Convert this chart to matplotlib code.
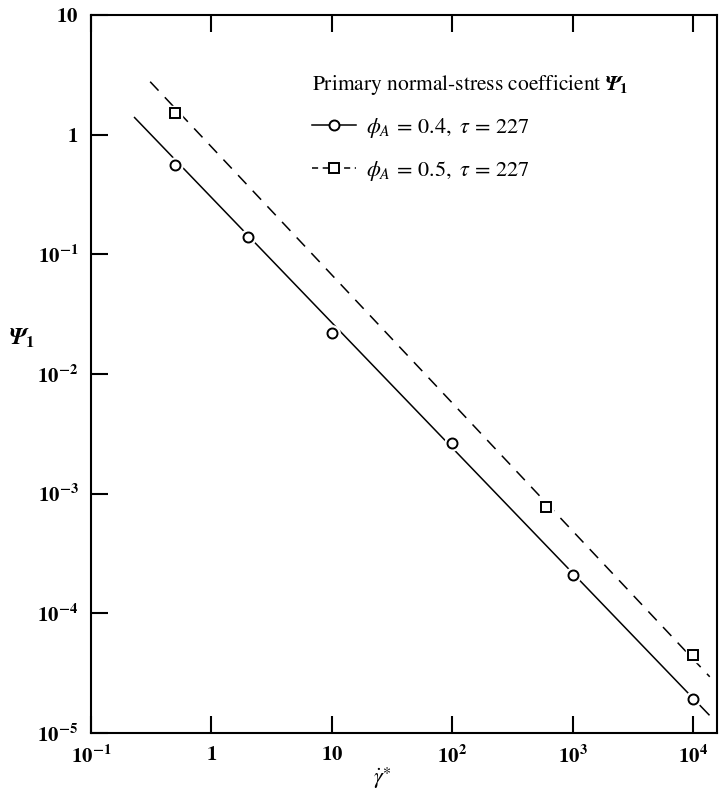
import matplotlib
matplotlib.use("Agg")
import matplotlib.pyplot as plt
from matplotlib.lines import Line2D
from matplotlib.ticker import FixedLocator, FixedFormatter, NullLocator

plt.rcParams["font.family"] = ["STIXGeneral", "DejaVu Serif"]
plt.rcParams["mathtext.fontset"] = "stix"

# Measured points: reduced shear rate vs primary normal-stress coefficient
shear_rate_a = [0.5, 2, 10, 100, 1000, 10000]
psi1_a = [0.556, 0.139, 0.0222, 2.64e-3, 2.1e-4, 1.94e-5]
shear_rate_b = [0.5, 600, 10000]
psi1_b = [1.51, 7.8e-4, 4.45e-5]

# Power-law fit lines (end points)
fit_rate_a = [0.23, 1.36e4]
fit_psi_a = [1.39, 1.42e-5]
fit_rate_b = [0.31, 1.38e4]
fit_psi_b = [2.77, 2.95e-5]

label_a = r"$\phi_A\,=\,0.4,\ \tau\,=\,227$"
label_b = r"$\phi_A\,=\,0.5,\ \tau\,=\,227$"
legend_title = r"Primary normal-stress coefficient $\mathbfit{\Psi}_{\mathbf{1}}$"

x_ticks = [0.1, 1, 10, 100, 1000, 10000]
x_tick_labels = [r"$\mathbf{10^{-1}}$", r"$\mathbf{1}$", r"$\mathbf{10}$",
                 r"$\mathbf{10^{2}}$", r"$\mathbf{10^{3}}$", r"$\mathbf{10^{4}}$"]
y_ticks = [1e-5, 1e-4, 1e-3, 1e-2, 1e-1, 1, 10]
y_tick_labels = [r"$\mathbf{10^{-5}}$", r"$\mathbf{10^{-4}}$", r"$\mathbf{10^{-3}}$",
                 r"$\mathbf{10^{-2}}$", r"$\mathbf{10^{-1}}$", r"$\mathbf{1}$",
                 r"$\mathbf{10}$"]

fig = plt.figure(figsize=(7.24, 7.97), dpi=100)
ax = fig.add_axes([0.1257, 0.0803, 0.8646, 0.9009])
ax.set_xscale("log")
ax.set_yscale("log")
ax.set_xlim(0.1, 10 ** 4.2)
ax.set_ylim(1e-5, 10)

lw = 1.1
ax.plot(fit_rate_a, fit_psi_a, color="black", lw=lw, ls="-", zorder=1)
ax.plot(fit_rate_b, fit_psi_b, color="black", lw=lw, ls=(0, (8, 6)), zorder=1)

# white halos leave small gaps in the lines around each symbol
ax.plot(shear_rate_a, psi1_a, ls="none", marker="o", ms=11, mfc="white",
        mec="white", zorder=2)
ax.plot(shear_rate_b, psi1_b, ls="none", marker="s", ms=10, mfc="white",
        mec="white", zorder=2)
ax.plot(shear_rate_a, psi1_a, ls="none", marker="o", ms=7.2, mfc="white",
        mec="black", mew=1.4, zorder=3)
ax.plot(shear_rate_b, psi1_b, ls="none", marker="s", ms=6.6, mfc="white",
        mec="black", mew=1.4, zorder=3)

for s in ax.spines.values():
    s.set_linewidth(1.5)

ax.xaxis.set_major_locator(FixedLocator(x_ticks))
ax.xaxis.set_major_formatter(FixedFormatter(x_tick_labels))
ax.yaxis.set_major_locator(FixedLocator(y_ticks))
ax.yaxis.set_major_formatter(FixedFormatter(y_tick_labels))
ax.xaxis.set_minor_locator(NullLocator())
ax.yaxis.set_minor_locator(NullLocator())
ax.tick_params(axis="both", which="major", direction="in", length=12,
               width=1.5, labelsize=15, pad=9, top=True, right=False)

ax.set_xlabel(r"$\dot{\gamma}^{\ast}$", fontsize=16)
ax.xaxis.set_label_coords(0.466, -0.046)
ax.set_ylabel(r"$\mathbfit{\Psi}_{\mathbf{1}}$", fontsize=17, rotation=0,
              ha="center", va="center")
ax.yaxis.set_label_coords(-0.11, 0.55)

handles = [
    Line2D([], [], color="black", lw=lw, ls="-", marker="o", ms=7.2,
           mfc="white", mec="black", mew=1.4),
    Line2D([], [], color="black", lw=lw, ls=(0, (4, 3)), marker="s", ms=6.6,
           mfc="white", mec="black", mew=1.4),
]
leg = ax.legend(handles, [label_a, label_b], title=legend_title,
                loc="upper left", bbox_to_anchor=(0.335, 0.935),
                frameon=False, fontsize=16, title_fontsize=15.5,
                alignment="left", borderpad=0, handlelength=2.0,
                handletextpad=0.45, labelspacing=0.85, numpoints=1)
leg._legend_box.sep = 14

fig.savefig("out.png", dpi=100)
